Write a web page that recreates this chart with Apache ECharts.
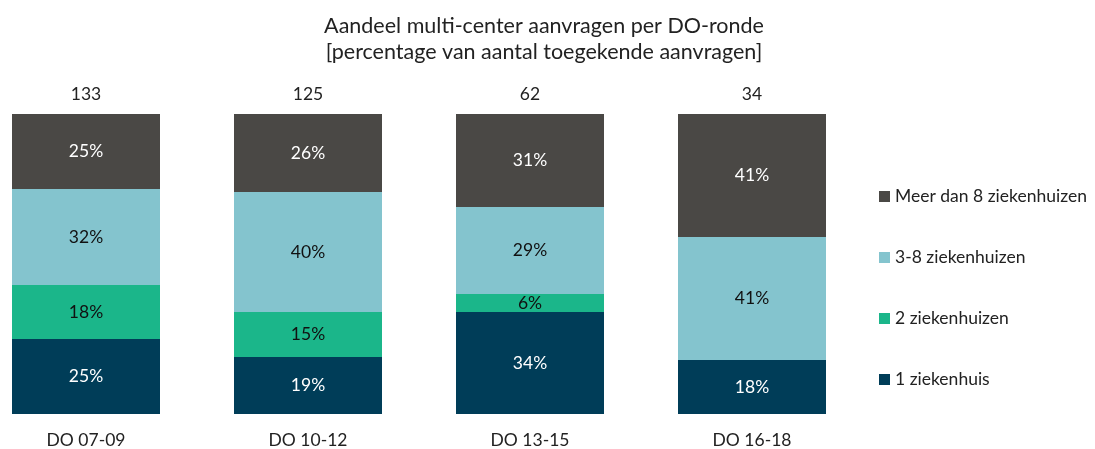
<!DOCTYPE html>
<html>
<head>
<meta charset="utf-8">
<script src="https://cdn.jsdelivr.net/npm/echarts@6/dist/echarts.min.js"></script>
<style>
  html, body { margin: 0; padding: 0; background: #fff; }
  #chart { width: 1095px; height: 449px; }
</style>
</head>
<body>
<div id="chart"></div>
<script>
const categories = ["DO 07-09", "DO 10-12", "DO 13-15", "DO 16-18"];
const totals = ["133", "125", "62", "34"];
// percentages, bottom to top
const een = [25, 19, 34, 18];
const twee = [18, 15, 6, 0];
const drieAcht = [32, 40, 29, 41];
const meerDan8 = [25, 26, 31, 41];

const font = "Lato, 'Noto Sans', sans-serif";

function seg(name, data, color, textColor) {
    return {
        name: name,
        type: "bar",
        stack: "total",
        data: data,
        barWidth: 148,
        clip: false,
        itemStyle: {color: color},
        label: {
            show: true,
            color: textColor,
            fontFamily: font,
            fontSize: 17.5,
            formatter: p => p.value > 0 ? p.value + "%" : ""
        }
    };
}

const chart = echarts.init(document.getElementById("chart"));
chart.setOption({
    animation: false,
    title: {
        text: "Aandeel multi-center aanvragen per DO-ronde\n[percentage van aantal toegekende aanvragen]",
        left: 539,
        top: 8,
        textAlign: "center",
        textStyle: {fontFamily: font, fontSize: 21.5, fontWeight: "normal", color: "#222", lineHeight: 26}
    },
    legend: {
        orient: "vertical",
        left: 874,
        top: 181,
        itemWidth: 11,
        itemHeight: 11,
        itemGap: 40,
        icon: "rect",
        data: ["Meer dan 8 ziekenhuizen", "3-8 ziekenhuizen", "2 ziekenhuizen", "1 ziekenhuis"],
        textStyle: {fontFamily: font, fontSize: 17.5, color: "#222", lineHeight: 21}
    },
    grid: {left: 86, right: 343, top: 114, bottom: 35},
    xAxis: [{
        type: "category",
        data: categories,
        boundaryGap: false,
        axisLine: {show: false},
        axisTick: {show: false},
        axisLabel: {fontFamily: font, fontSize: 17.5, color: "#222", margin: 17}
    }, {
        type: "category",
        position: "top",
        data: totals,
        boundaryGap: false,
        axisLine: {show: false},
        axisTick: {show: false},
        axisLabel: {fontFamily: font, fontSize: 17.5, color: "#222", margin: 11}
    }],
    yAxis: {type: "value", min: 0, max: 100, show: false, splitLine: {show: false}},
    series: [
        seg("1 ziekenhuis", een, "#003d58", "#fff"),
        seg("2 ziekenhuizen", twee, "#1bb68a", "#111"),
        seg("3-8 ziekenhuizen", drieAcht, "#84c4ce", "#111"),
        seg("Meer dan 8 ziekenhuizen", meerDan8, "#4a4845", "#fff")
    ]
});
</script>
</body>
</html>
